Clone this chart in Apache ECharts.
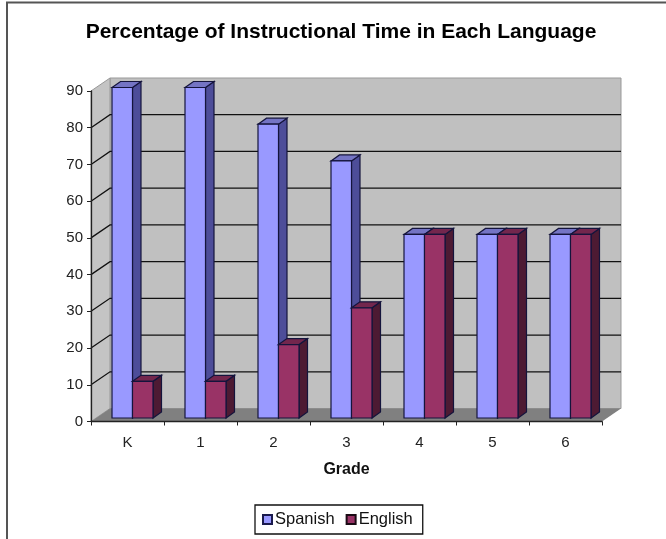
<!DOCTYPE html>
<html>
<head>
<meta charset="utf-8">
<style>
html, body { margin: 0; padding: 0; background: #fff; }
#main { width: 666px; height: 539px; }
</style>
<script src="https://cdn.jsdelivr.net/npm/echarts@6/dist/echarts.min.js"></script>
</head>
<body>
<div id="main"></div>
<script>
var grades = ['K', '1', '2', '3', '4', '5', '6'];
var spanish = [90, 90, 80, 70, 50, 50, 50];
var english = [10, 10, 20, 30, 50, 50, 50];
var yTicks = [0, 10, 20, 30, 40, 50, 60, 70, 80, 90];

var FONT = '"Liberation Sans", Arial, sans-serif';
// depth of the fake 3D box
var wallDx = 19, wallDy = -13;
var barDx = 8.5, barDy = -6;
var barFrontDx = 5, barFrontDy = -3.5;
var barWidth = 20.5;

function pairs(values) {
	return values.map(function (v, i) { return [i, v]; });
}

function poly(points, fill, stroke, width) {
	return {
		type: 'polygon',
		shape: { points: points },
		style: { fill: fill, stroke: stroke || null, lineWidth: width || 0 }
	};
}

function renderWalls(params, api) {
	var c = params.coordSys;
	var x0 = c.x, x1 = c.x + c.width, yb = c.y + c.height, yt = c.y;
	return {
		type: 'group',
		children: [
			// back wall
			poly([[x0 + wallDx, yt + wallDy], [x1 + wallDx, yt + wallDy], [x1 + wallDx, yb + wallDy], [x0 + wallDx, yb + wallDy]], '#c0c0c0', '#999', 1),
			// left wall
			poly([[x0, yt], [x0 + wallDx, yt + wallDy], [x0 + wallDx, yb + wallDy], [x0, yb]], '#c4c4c4', '#999', 1),
			// floor
			poly([[x0, yb], [x1, yb], [x1 + wallDx, yb + wallDy], [x0 + wallDx, yb + wallDy]], '#808080')
		]
	};
}

function renderGridLine(params, api) {
	var v = api.value(0);
	if (v === 0 || v === 90) return null;
	var c = params.coordSys;
	var y = api.coord([0, v])[1];
	var x0 = c.x, x1 = c.x + c.width;
	return {
		type: 'polyline',
		shape: { points: [[x0, y], [x0 + wallDx, y + wallDy], [x1 + wallDx, y + wallDy]] },
		style: { fill: null, stroke: '#111', lineWidth: 1.3 }
	};
}

function barRenderer(side, front, sideColor, topColor) {
	return function (params, api) {
		var p = api.coord([api.value(0), api.value(1)]);
		var base = api.coord([api.value(0), 0]);
		var xl = p[0] + barFrontDx + (side < 0 ? -barWidth : 0);
		var xr = xl + barWidth;
		var yt = p[1] + barFrontDy;
		var yb = base[1] + barFrontDy;
		var edge = '#14143c';
		return {
			type: 'group',
			children: [
				poly([[xr, yt], [xr + barDx, yt + barDy], [xr + barDx, yb + barDy], [xr, yb]], sideColor, edge, 1.2),
				poly([[xl, yt], [xl + barDx, yt + barDy], [xr + barDx, yt + barDy], [xr, yt]], topColor, edge, 1.2),
				poly([[xl, yt], [xr, yt], [xr, yb], [xl, yb]], front, edge, 1.2)
			]
		};
	};
}

var chart = echarts.init(document.getElementById('main'));
var option = {
	animation: false,
	backgroundColor: '#fff',
	title: {
		text: 'Percentage of Instructional Time in Each Language',
		left: 336,
		top: 17,
		textAlign: 'center',
		textStyle: { fontFamily: FONT, fontWeight: 'bold', fontSize: 21, color: '#000' }
	},
	grid: { left: 91, right: 64, top: 91, bottom: 117.5 },
	legend: {
		left: 255,
		top: 505,
		data: ['Spanish', 'English'],
		icon: 'rect',
		itemWidth: 9,
		itemHeight: 9,
		itemGap: 11,
		padding: [6, 10, 6, 7],
		borderColor: '#111',
		borderWidth: 1.3,
		textStyle: { fontFamily: FONT, fontSize: 16.5, color: '#111', padding: [0, 0, 0, -2] }
	},
	graphic: [{
		type: 'polyline',
		shape: { points: [[7, 539], [7, 2.5], [666, 2.5]] },
		style: { fill: null, stroke: '#555', lineWidth: 2 },
		silent: true
	}],
	xAxis: {
		type: 'category',
		data: grades,
		z: 10,
		name: 'Grade',
		nameLocation: 'middle',
		nameGap: 40,
		nameTextStyle: { fontFamily: FONT, fontWeight: 'bold', fontSize: 16, color: '#111' },
		axisLine: { lineStyle: { color: '#222', width: 1.3 } },
		axisTick: { show: true, length: 4, lineStyle: { color: '#222' } },
		axisLabel: { fontFamily: FONT, fontSize: 15, color: '#222', margin: 14 }
	},
	yAxis: {
		type: 'value',
		min: 0,
		max: 90,
		interval: 10,
		z: 10,
		splitLine: { show: false },
		axisLine: { show: true, lineStyle: { color: '#222', width: 1.3 } },
		axisTick: { show: true, length: 4, lineStyle: { color: '#222' } },
		axisLabel: { fontFamily: FONT, fontSize: 15, color: '#222', margin: 8 }
	},
	series: [
		{ name: 'walls', type: 'custom', z: 1, silent: true, clip: false, data: [[0, 90]], renderItem: renderWalls },
		{ name: 'gridlines', type: 'custom', z: 1.5, silent: true, clip: false, data: yTicks.map(function (t) { return [t]; }), encode: { y: 0 }, renderItem: renderGridLine },
		{
			name: 'Spanish', type: 'custom', z: 2, clip: false,
			data: pairs(spanish), encode: { x: 0, y: 1 },
			itemStyle: { color: '#9999ff', borderColor: '#1a1a4d', borderWidth: 1 },
			renderItem: barRenderer(-1, '#9999ff', '#4d4d99', '#7474c4')
		},
		{
			name: 'English', type: 'custom', z: 3, clip: false,
			data: pairs(english), encode: { x: 0, y: 1 },
			itemStyle: { color: '#993366', borderColor: '#1a0a14', borderWidth: 1 },
			renderItem: barRenderer(1, '#993366', '#4d1a33', '#73264d')
		}
	]
};
chart.setOption(option);
</script>
</body>
</html>
